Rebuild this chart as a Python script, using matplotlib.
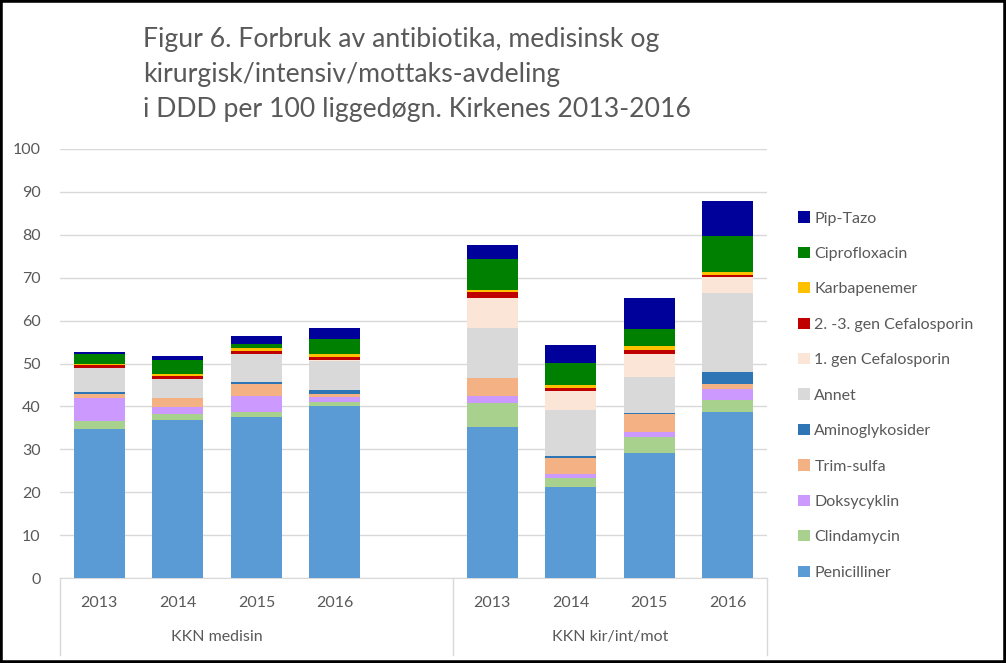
import matplotlib
matplotlib.use("Agg")
import matplotlib.pyplot as plt
from matplotlib.patches import Rectangle, Patch
import numpy as np

years = ["2013", "2014", "2015", "2016", "2013", "2014", "2015", "2016"]
groups = ["KKN medisin", "KKN kir/int/mot"]
positions = [0, 1, 2, 3, 5, 6, 7, 8]

series_names = ["Penicilliner", "Clindamycin", "Doksycyklin", "Trim-sulfa",
                "Aminoglykosider", "Annet", "1. gen Cefalosporin",
                "2. -3. gen Cefalosporin", "Karbapenemer", "Ciprofloxacin", "Pip-Tazo"]

penicilliner = [34.7, 36.8, 37.5, 40.1, 35.2, 21.3, 29.1, 38.7]
clindamycin = [1.9, 1.4, 1.2, 0.9, 5.7, 2.1, 3.8, 2.8]
doksycyklin = [5.4, 1.7, 3.8, 1.1, 1.6, 0.8, 1.1, 2.6]
trim_sulfa = [0.9, 2.1, 2.8, 0.8, 4.2, 3.8, 4.2, 1.1]
aminoglykosider = [0.5, 0.0, 0.3, 1.0, 0.0, 0.5, 0.3, 2.8]
annet = [5.5, 4.4, 6.6, 6.6, 11.6, 10.7, 8.3, 18.4]
cef1 = [0.0, 0.0, 0.0, 0.3, 7.0, 4.4, 5.4, 3.8]
cef23 = [0.8, 0.8, 0.7, 0.6, 1.4, 0.7, 0.9, 0.5]
karbapenemer = [0.3, 0.4, 0.7, 0.7, 0.4, 0.7, 1.0, 0.6]
ciprofloxacin = [2.3, 3.3, 0.9, 3.6, 7.3, 5.2, 3.9, 8.4]
pip_tazo = [0.3, 0.9, 2.0, 2.6, 3.2, 4.1, 7.3, 8.2]

series_values = [penicilliner, clindamycin, doksycyklin, trim_sulfa, aminoglykosider,
                 annet, cef1, cef23, karbapenemer, ciprofloxacin, pip_tazo]
colors = ["#5B9BD5", "#A9D18E", "#CC99FF", "#F4B183", "#2E75B6", "#D9D9D9",
          "#FBE5D6", "#C00000", "#FFC000", "#008000", "#00009A"]

plt.rcParams['font.family'] = ['Lato', 'DejaVu Sans']
txt = "#595959"

fig = plt.figure(figsize=(10.06, 6.63), dpi=100)
ax = fig.add_axes([60/1006, 1-578/663, (767-60)/1006, (578-149)/663])

bottom = np.zeros(len(positions))
for name, vals, c in zip(series_names, series_values, colors):
    ax.bar(positions, vals, width=0.65, bottom=bottom, color=c, label=name,
           edgecolor='none', zorder=3)
    bottom += np.array(vals)

ax.set_xlim(-0.5, 8.5)
ax.set_ylim(0, 100)
ax.set_yticks(range(0, 101, 10))
ax.tick_params(axis='y', length=0, labelsize=11.5, colors=txt, pad=14)
ax.set_xticks([])
ax.grid(axis='y', color="#D9D9D9", linewidth=1, zorder=0)
for s in ["top", "right", "left"]:
    ax.spines[s].set_visible(False)
ax.spines["bottom"].set_color("#D9D9D9")

trans = ax.get_xaxis_transform()
for p, y in zip(positions, years):
    ax.text(p, -0.058, y, transform=trans, ha='center', va='center',
            fontsize=11.5, color=txt)
ax.text(1.5, -0.137, groups[0], transform=trans, ha='center', va='center',
        fontsize=11.5, color=txt)
ax.text(6.5, -0.137, groups[1], transform=trans, ha='center', va='center',
        fontsize=11.5, color=txt)
for xv in [-0.5, 4.5, 8.5]:
    ax.plot([xv, xv], [0, -0.18], transform=trans, color="#D9D9D9",
            linewidth=1, clip_on=False)

handles = [Patch(facecolor=c, edgecolor='none', label=n)
           for n, c in zip(series_names, colors)][::-1]
leg = fig.legend(handles=handles, loc='upper left',
                 bbox_to_anchor=(784/1006, 1-197/663), frameon=False,
                 fontsize=11.5, labelcolor=txt, handlelength=0.7,
                 handleheight=0.7, handletextpad=0.3, labelspacing=1.33)

fig.text(143/1006, 1-27/663,
         "Figur 6. Forbruk av antibiotika, medisinsk og\n"
         "kirurgisk/intensiv/mottaks-avdeling\n"
         "i DDD per 100 liggedøgn. Kirkenes 2013-2016",
         ha='left', va='top', fontsize=19.2, color=txt, linespacing=1.5)

fig.patches.append(Rectangle((0, 0), 1, 1, transform=fig.transFigure,
                             fill=False, edgecolor='black', linewidth=4))

fig.savefig("out.png", dpi=100)
